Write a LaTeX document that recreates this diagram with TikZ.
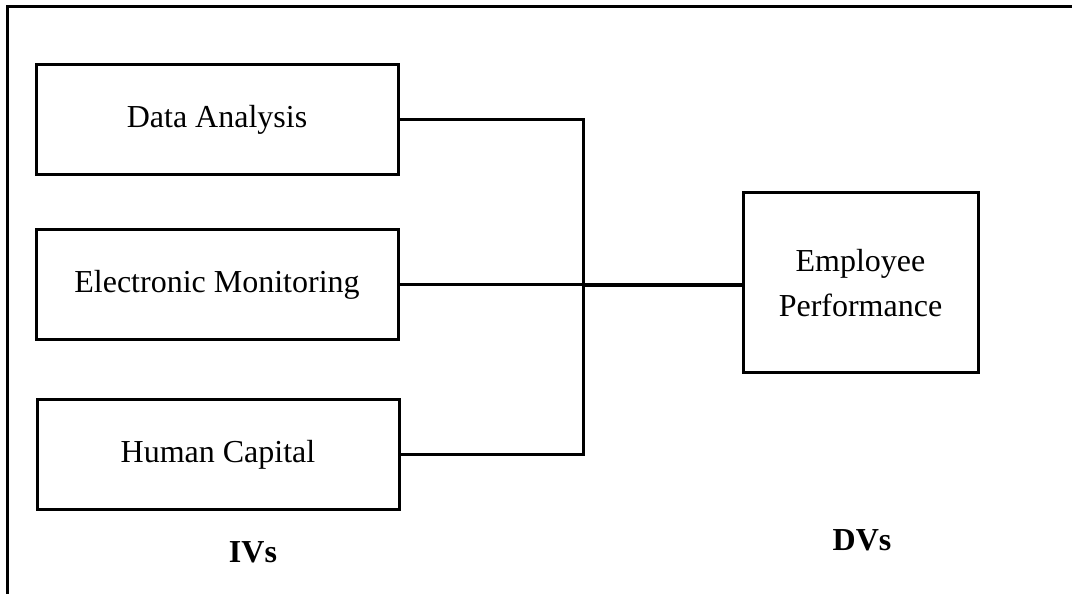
\documentclass[tikz,border=0pt]{standalone}
\usepackage{fontspec}
\setmainfont{Liberation Serif}
\usepackage{tikz}
\usetikzlibrary{positioning}

\begin{document}
\begin{tikzpicture}[x=1pt,y=1pt,line width=3pt,
  var node/.style={rectangle,draw,line width=3pt,minimum width=362pt,minimum height=110pt,
    font=\fontsize{32}{45}\selectfont,align=center,inner sep=0pt},
  group label/.style={font=\fontsize{32}{38}\selectfont\bfseries}]

 \useasboundingbox (0,0) rectangle (1072,594);

 % outer frame (top and left only)
 \draw (1072,587) -- (7,587) -- (7,0);

 \node[var node] (da) at (217,474) {Data Analysis};
 \node[var node] (em) at (217,309) {Electronic Monitoring};
 \node[var node] (hc) at (218,139) {Human Capital};
 \node[var node,minimum width=235pt,minimum height=180pt] (ep) at (860.5,311) {Employee\\Performance};

 \coordinate (hub) at (583,309);

 \node[group label] (iv) at (253,42) {IVs};
 \node[group label] (dv) at (862,54) {DVs};

 \draw (da.east) -| (hub);
 \draw (hc.east) -| (hub);
 \draw (em.east) -- (hub);
 \draw[line width=3.6pt] (hub) -- (hub -| ep.west);

\end{tikzpicture}
\end{document}
